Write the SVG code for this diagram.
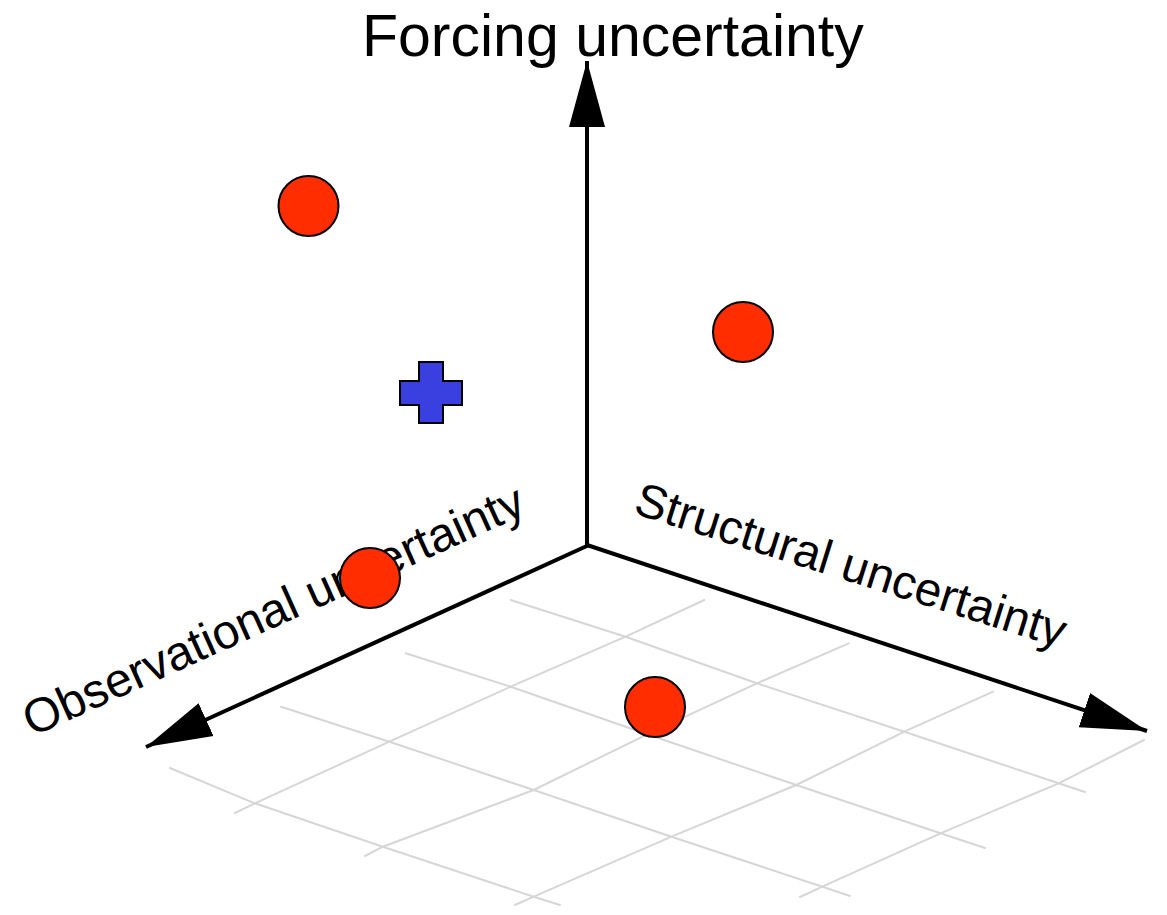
<svg xmlns="http://www.w3.org/2000/svg" width="1167" height="915" viewBox="0 0 1167 915">
  <style>
    .grid { fill: none; stroke: #d6d6d6; stroke-width: 2; stroke-linecap: round; stroke-linejoin: round; }
    .axis { fill: none; stroke: #000; stroke-width: 4; marker-end: url(#ah); }
    .lbl { font-family: "Liberation Sans", Arial, sans-serif; fill: #000; }
    .pt { fill: #ff2d00; stroke: #000; stroke-width: 2; }
    .cross { fill: #3a40e0; stroke: #000; stroke-width: 2; }
  </style>
  <defs>
    <marker id="ah" markerUnits="userSpaceOnUse" viewBox="0 0 68 40" markerWidth="68" markerHeight="40" refX="66" refY="20" orient="auto">
      <path d="M66,20 L0,2 L0,38 Z" fill="#000"/>
    </marker>
  </defs>
  <rect width="1167" height="915" fill="#fff"/>

  <g id="grid">
    <polyline class="grid" points="510.7,600 625.6,636.7 756.8,683.3 904.4,731.7 1058.6,783.3 1085,792"/>
    <polyline class="grid" points="405.7,653.3 510.7,686.7 647.2,734.3 796.2,785 940.5,833.3 985,848"/>
    <polyline class="grid" points="281,706.7 389.3,741.7 533.7,790 671.5,836.7 822.4,886.7 850,896"/>
    <polyline class="grid" points="170,768 254.8,803.3 382.8,846.7 533.7,896.7 560,905"/>
    <polyline class="grid" points="704.3,600 625.6,636.7 510.7,686.7 389.3,741.7 254.8,803.3 235,813"/>
    <polyline class="grid" points="848.7,643.3 756.8,683.3 647.2,734.3 533.7,790 382.8,846.7 365,856"/>
    <polyline class="grid" points="993,691.7 904.4,731.7 796.2,785 671.5,836.7 533.7,896.7 515,905"/>
    <polyline class="grid" points="1144,740 1058.6,783.3 940.5,833.3 822.4,886.7 800,897"/>
  </g>

  <g id="connectors">
    <line id="axis-forcing" class="axis" x1="587" y1="546" x2="587" y2="61"/>
    <line id="axis-structural" class="axis" x1="587" y1="545" x2="1147" y2="731"/>
    <line id="axis-observational" class="axis" x1="589" y1="545" x2="146" y2="747"/>
  </g>

  <g id="label-forcing">
    <text class="lbl" x="362" y="56" font-size="59">Forcing uncertainty</text>
  </g>
  <g id="label-structural">
    <text class="lbl" x="632" y="513" font-size="47.5" transform="rotate(17.5 632 513)">Structural uncertainty</text>
  </g>
  <g id="label-observational">
    <text class="lbl" x="32" y="737" font-size="48" transform="rotate(-24.3 32 737)">Observational uncertainty</text>
  </g>

  <g id="point-1"><circle class="pt" cx="308.5" cy="206" r="30"/></g>
  <g id="point-2"><circle class="pt" cx="743" cy="332" r="30"/></g>
  <g id="point-3"><circle class="pt" cx="370" cy="578" r="30"/></g>
  <g id="point-4"><circle class="pt" cx="655" cy="707" r="30"/></g>
  <g id="cross">
    <path class="cross" d="M419,362 H443 V381 H462 V405 H443 V423 H419 V405 H400 V381 H419 Z"/>
  </g>
</svg>
